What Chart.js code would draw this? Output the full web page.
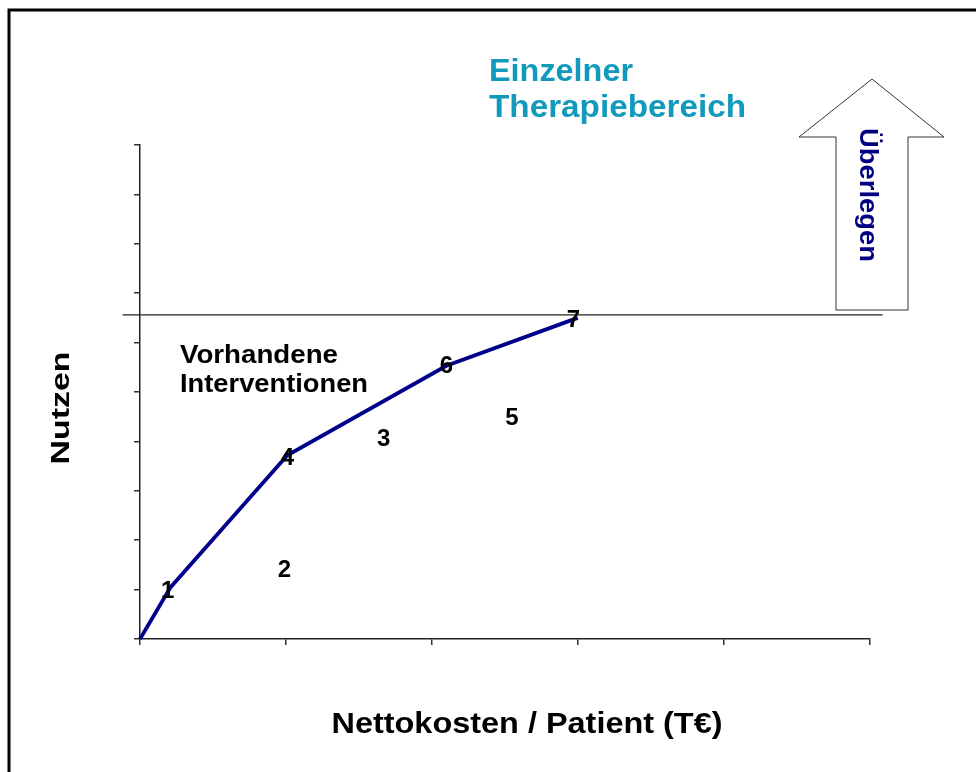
<!DOCTYPE html>
<html lang="de">
<head>
  <meta charset="UTF-8">
  <title>Nutzen vs. Nettokosten</title>
  <script src="https://cdn.jsdelivr.net/npm/chart.js"></script>
  <style>
    html, body { margin: 0; padding: 0; background: #fff; }
    canvas { display: block; }
  </style>
</head>
<body>
  <canvas id="myChart" width="976" height="772"></canvas>
  <script>
    // Interventions (label, cost in T€, benefit)
    const interventionIds = ['1', '2', '3', '4', '5', '6', '7'];
    const costValues = [0.19, 0.99, 1.67, 1.01, 2.55, 2.10, 2.97];
    const benefitValues = [0.99, 1.40, 4.07, 3.68, 4.49, 5.53, 6.48];

    // Efficiency frontier through 0 -> 1 -> 4 -> 6 -> 7
    const frontierCost = [0, 0.21, 1.01, 2.10, 3.00];
    const frontierBenefit = [0, 1.05, 3.72, 5.53, 6.50];

    // Horizontal reference line
    const thresholdBenefit = 6.56;
    const thresholdCost = [-0.12, 5.09];

    const FONT = '"Liberation Sans", Arial, sans-serif';

    // draw bold text squeezed/stretched to a target length
    function fitText(ctx, text, x, y, size, length, color, align, rot) {
      ctx.save();
      ctx.translate(x, y);
      if (rot) ctx.rotate(rot);
      ctx.font = 'bold ' + size + 'px ' + FONT;
      const w = ctx.measureText(text).width;
      ctx.scale(length / w, 1);
      ctx.fillStyle = color;
      ctx.textAlign = align;
      ctx.textBaseline = rot ? 'middle' : 'alphabetic';
      ctx.fillText(text, 0, 0);
      ctx.restore();
    }

    const decorPlugin = {
      id: 'decor',
      afterDraw(chart) {
        const ctx = chart.ctx;

        // numbers at the intervention points
        const meta = chart.getDatasetMeta(2);
        ctx.save();
        ctx.font = 'bold 24px ' + FONT;
        ctx.fillStyle = '#000';
        ctx.textAlign = 'center';
        ctx.textBaseline = 'middle';
        meta.data.forEach((pt, i) => {
          ctx.fillText(interventionIds[i], pt.x, pt.y + 1);
        });
        ctx.restore();

        // frame (top + left)
        ctx.save();
        ctx.strokeStyle = '#000';
        ctx.lineWidth = 3;
        ctx.beginPath();
        ctx.moveTo(976, 10);
        ctx.lineTo(9, 10);
        ctx.lineTo(9, 772);
        ctx.stroke();
        ctx.restore();

        // arrow
        ctx.save();
        ctx.beginPath();
        ctx.moveTo(872, 79);
        ctx.lineTo(944, 137);
        ctx.lineTo(908, 137);
        ctx.lineTo(908, 310);
        ctx.lineTo(836, 310);
        ctx.lineTo(836, 137);
        ctx.lineTo(799, 137);
        ctx.closePath();
        ctx.fillStyle = '#fff';
        ctx.fill();
        ctx.strokeStyle = '#333';
        ctx.lineWidth = 1;
        ctx.stroke();
        ctx.restore();

        fitText(ctx, 'Überlegen', 867, 195, 25, 134, '#000080', 'center', Math.PI / 2);

        // titles and labels
        fitText(ctx, 'Einzelner', 489, 81, 31, 144, '#129ABC', 'left');
        fitText(ctx, 'Therapiebereich', 489, 117, 31, 257, '#129ABC', 'left');
        fitText(ctx, 'Vorhandene', 180, 363, 26, 158, '#000', 'left');
        fitText(ctx, 'Interventionen', 180, 392, 26, 188, '#000', 'left');
        fitText(ctx, 'Nutzen', 62, 408, 26, 113, '#000', 'center', -Math.PI / 2);
        fitText(ctx, 'Nettokosten / Patient (T€)', 527, 733, 29, 391, '#000', 'center');
      }
    };

    const ctx = document.getElementById('myChart').getContext('2d');
    const myChart = new Chart(ctx, {
      type: 'line',
      data: {
        datasets: [
          {
            label: 'threshold',
            data: thresholdCost.map(c => ({ x: c, y: thresholdBenefit })),
            borderColor: '#222',
            borderWidth: 1.2,
            pointRadius: 0,
            clip: false
          },
          {
            label: 'frontier',
            data: frontierCost.map((c, i) => ({ x: c, y: frontierBenefit[i] })),
            borderColor: '#00008B',
            borderWidth: 3.8,
            pointRadius: 0,
            tension: 0,
            clip: false
          },
          {
            label: 'interventions',
            data: costValues.map((c, i) => ({ x: c, y: benefitValues[i] })),
            showLine: false,
            pointRadius: 0
          }
        ]
      },
      options: {
        responsive: false,
        animation: false,
        layout: { padding: { left: 134, top: 145, right: 106.5, bottom: 127 } },
        plugins: {
          legend: { display: false },
          tooltip: { enabled: false }
        },
        scales: {
          x: {
            type: 'linear',
            min: 0,
            max: 5,
            ticks: { display: false, stepSize: 1 },
            grid: { drawOnChartArea: false, drawTicks: true, tickLength: 6, color: '#333', lineWidth: 1.5 },
            border: { display: true, color: '#222', width: 1.5 },
            afterFit(scale) { scale.height = 6; }
          },
          y: {
            min: 0,
            max: 10,
            ticks: { display: false, stepSize: 1 },
            grid: { drawOnChartArea: false, drawTicks: true, tickLength: 6, color: '#333', lineWidth: 1.5 },
            border: { display: true, color: '#222', width: 1.5 },
            afterFit(scale) { scale.width = 6; }
          }
        }
      },
      plugins: [decorPlugin]
    });
  </script>
</body>
</html>
